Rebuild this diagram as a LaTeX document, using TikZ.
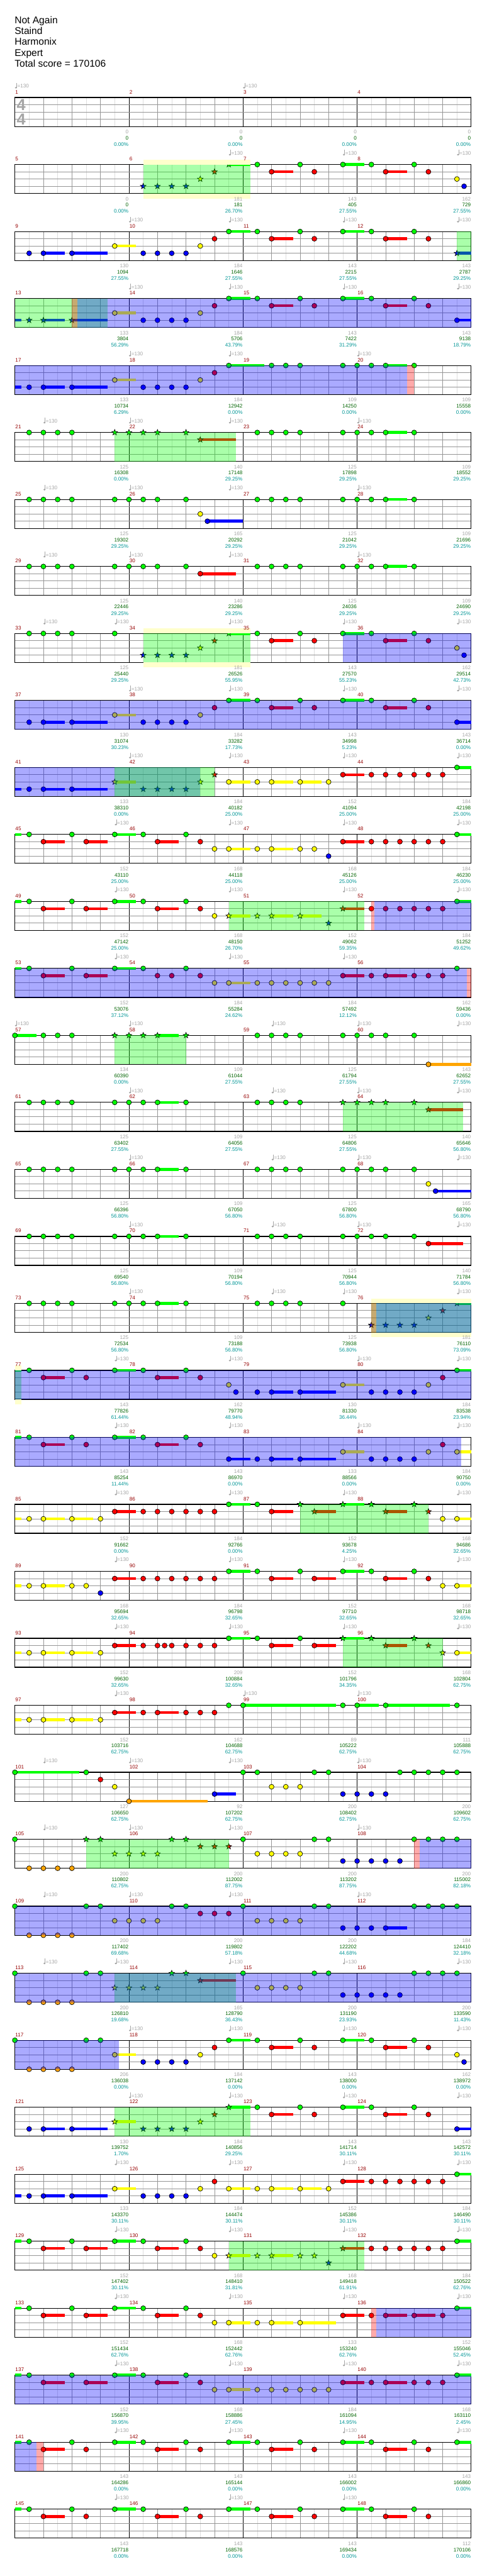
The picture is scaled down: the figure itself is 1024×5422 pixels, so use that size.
\documentclass[tikz,border=0pt]{standalone}
\usepackage{fontspec}
\setmainfont{Liberation Sans}
\usetikzlibrary{calc}

\definecolor{L0}{RGB}{0,255,0}
\definecolor{L1}{RGB}{255,0,0}
\definecolor{L2}{RGB}{255,255,0}
\definecolor{L3}{RGB}{0,0,255}
\definecolor{L4}{RGB}{255,165,0}
\definecolor{gridlt}{RGB}{222,222,222}
\definecolor{gridmd}{RGB}{150,150,150}
\definecolor{tgray}{RGB}{165,165,165}
\definecolor{mred}{RGB}{150,0,0}
\definecolor{sgreen}{RGB}{0,100,0}
\definecolor{pteal}{RGB}{0,150,150}
\definecolor{paleyel}{RGB}{255,255,204}

\newcommand{\lblfont}{\fontsize{5.4pt}{6pt}\selectfont}

\tikzset{
  eighth/.style={draw=gridlt,line width=0.5pt},
  beatln/.style={draw=gridmd,line width=0.5pt},
  barln/.style={draw=black,line width=0.5pt},
  laneln/.style={draw=gridmd,line width=0.6pt},
  frame/.style={draw=black,line width=0.8pt},
  gem/.style={draw=black,line width=0.45pt},
  ovl/.style={fill opacity=0.333},
  mnum/.style={font=\lblfont,text=mred,anchor=west,inner sep=0pt},
  tlab/.style={font=\lblfont,text=tgray,anchor=west,inner sep=0pt},
  lblg/.style={font=\lblfont,text=tgray,anchor=east,inner sep=0pt},
  lbls/.style={font=\lblfont,text=sgreen,anchor=east,inner sep=0pt},
  lblp/.style={font=\lblfont,text=pteal,anchor=east,inner sep=0pt},
  title/.style={font=\fontsize{10.3pt}{12pt}\selectfont,anchor=base west,inner sep=0pt},
  tsig/.style={font=\fontsize{16.8pt}{18pt}\selectfont\bfseries,text=tgray,inner sep=0pt}
}

% notes: lane (0=green ... 4=orange), position in eighths
\newcommand{\nt}[2]{\filldraw[gem,fill=L#1] (30*#2,15.25*#1) circle[radius=2.6pt];}
\newcommand{\hold}[3]{\fill[L#1] (30*#2,15.25*#1-3) rectangle (30*#3,15.25*#1+3);}
\newcommand{\nts}[3]{\hold{#1}{#2}{#3}\nt{#1}{#2}}
\newcommand{\sg}[2]{\filldraw[gem,fill=L#1,shift={(30*#2,15.25*#1)}]
  (90:3.1pt) -- (126:1.3pt) -- (162:3.1pt) -- (198:1.3pt) -- (234:3.1pt) -- (270:1.3pt)
  -- (306:3.1pt) -- (342:1.3pt) -- (18:3.1pt) -- (54:1.3pt) -- cycle;}
\newcommand{\sgs}[3]{\hold{#1}{#2}{#3}\sg{#1}{#2}}

% overlays
\newcommand{\glow}[2]{\fill[paleyel] (30*#1,-10.4) rectangle (30*#2,0);
  \fill[paleyel] (30*#1,61) rectangle (30*#2,71.4);}
\newcommand{\phrase}[2]{\fill[ovl,fill=green] (30*#1,0) rectangle (30*#2,61);}
\newcommand{\actv}[2]{\fill[ovl,fill=red] (30*#1,0) rectangle (30*#2,61);}
\newcommand{\odrive}[2]{\fill[ovl,fill=blue] (30*#1,0) rectangle (30*#2,61);}

\newcommand{\tmark}[2]{%
  \fill[tgray] (30*#1+2.3,-20.7) ellipse[x radius=1.2pt,y radius=0.9pt];
  \draw[tgray,line width=0.4pt] (30*#1+3.6,-21) -- (30*#1+3.6,-31);
  \node[tlab] (#2) at (30*#1+4.8,-24.3) {=130};}

% recurring figures
\newcommand{\riffA}{\nt{3}{1}\nts{3}{2}{3.5}\nts{3}{4}{6.5}\nts{2}{7}{8.5}\nt{3}{9}\nt{3}{10}\nt{3}{11}\nt{3}{12}\nt{2}{13}\nt{1}{14}}
\newcommand{\riffBt}{\nt{0}{17}\nts{1}{18}{19.5}\nt{0}{20}\nt{1}{21}\nts{0}{23}{24.5}\nt{0}{25}\nts{1}{26}{27.5}\nt{0}{28}\nt{1}{29}}
\newcommand{\riffB}{\nts{0}{15}{16.5}\riffBt}
\newcommand{\riffS}{\sg{3}{9}\sg{3}{10}\sg{3}{11}\sg{3}{12}\sg{2}{13}\sg{1}{14}\sgs{0}{15}{16.5}}
\newcommand{\riffC}{\nt{0}{1}\nt{0}{2}\nt{0}{3}\nt{0}{4}\nt{0}{7}\nt{0}{8}\nt{0}{9}\nt{0}{12}}
\newcommand{\riffD}{\nt{0}{17}\nt{0}{18}\nt{0}{19}\nt{0}{20}\nt{0}{23}\nt{0}{24}\nt{0}{25}}
\newcommand{\riffE}{\hold{0}{0}{0.46}\nt{0}{1}\nts{1}{2}{3.5}\nt{0}{4}\nts{1}{5}{6.5}\nts{0}{7}{8.5}\nt{0}{9}\nts{1}{10}{11.5}\nt{0}{12}\nt{1}{13}\nt{2}{14}}
\newcommand{\riffG}{\hold{0}{0}{0.46}\nt{0}{1}\nts{1}{2}{3.5}\nt{0}{4}\nt{1}{5}\nts{0}{7}{8.5}\nt{0}{9}\nts{1}{10}{11.5}\nt{0}{12}\nt{1}{13}}
\newcommand{\riffY}{\nts{2}{15}{16.5}\nt{2}{17}\nts{2}{18}{19.5}\nts{2}{20}{21.5}\nt{2}{22}}
\newcommand{\riffR}{\nts{1}{23}{24.5}\nt{1}{25}\nt{1}{26}\nt{1}{27}\nt{1}{28}\nt{1}{29}\nt{1}{30}}
\newcommand{\riffH}{\nt{0}{0}\nt{4}{1}\nt{4}{2}\nt{4}{3}\nt{4}{4}\nt{0}{5}\nt{0}{6}}
\newcommand{\riffI}{\nt{0}{16}\nt{2}{17}\nt{2}{18}\nt{2}{19}\nt{2}{20}\nt{0}{21}\nt{0}{22}\nt{3}{23}\nt{3}{24}\nt{3}{25}}
\newcommand{\riffK}{\hold{2}{0}{0.46}\nt{2}{1}\nts{2}{2}{3.5}}

% one line of four measures: row, tempo marks, notes, overlays, scores
\newcommand{\staffrow}[5]{%
\begin{scope}[shift={(31.3,{205.3+141*(#1-1)})}]
  \foreach \k in {1,3,...,31} \draw[eighth] (30*\k,0) -- (30*\k,61);
  \foreach \k in {2,4,6,10,12,14,18,20,22,26,28,30} \draw[beatln] (30*\k,0) -- (30*\k,61);
  \foreach \k in {8,16,24} \draw[barln] (30*\k,0) -- (30*\k,61);
  \foreach \l in {1,2,3} \draw[laneln] (0,15.25*\l) -- (960,15.25*\l);
  \draw[frame] (0,0) rectangle (960,61);
  #3
  #4
  \foreach \k in {0,...,3} {
    \pgfmathtruncatemacro{\mm}{4*(#1-1)+\k+1}
    \node[mnum] (m\mm) at (240*\k+0.7,-11.6) {\mm};
  }
  \foreach \tp [count=\k] in {#2} {\tmark{\tp}{t#1-\k}}
  \foreach \va/\vb/\vc [count=\k] in {#5} {
    \pgfmathtruncatemacro{\mm}{4*(#1-1)+\k}
    \node[lblg] (g\mm) at (240*\k-0.6,72.4) {\va};
    \node[lbls] (s\mm) at (240*\k-0.6,85.3) {\vb};
    \node[lblp] (p\mm) at (240*\k-0.6,98.6) {\vc};
  }
\end{scope}}

\begin{document}
\begin{tikzpicture}[x=0.5pt,y=-0.5pt]
\useasboundingbox (0,0) rectangle (1024,5422);
\fill[white] (0,0) rectangle (1024,5422);

\node[title] (song) at (30.5,49) {Not Again};
\node[title] (band) at (30.5,72) {Staind};
\node[title] (chart) at (30.5,95) {Harmonix};
\node[title] (diff) at (30.5,118) {Expert};
\node[title] (total) at (30.5,141) {Total score = 170106};

\staffrow{1}{0,16}{}{}{0/0/0.00\%,0/0/0.00\%,0/0/0.00\%,0/0/0.00\%}
\node[tsig] (tsa) at (44.5,220.5) {4};
\node[tsig] (tsb) at (44.5,251) {4};

\staffrow{2}{15,23,31}
 {\riffS\riffBt\nt{2}{31}\nt{3}{31.5}}
 {\glow{9}{16.5}\phrase{9}{16.5}}
 {0/0/0.00\%,181/181/26.70\%,143/405/27.55\%,162/729/27.55\%}
\staffrow{3}{8,15,23,31}
 {\riffA\riffB\sgs{3}{31}{32}}
 {\phrase{31}{32}}
 {130/1094/27.55\%,184/1646/27.55\%,143/2215/27.55\%,143/2787/29.25\%}
\staffrow{4}{8,15,23,31}
 {\hold{3}{0}{0.46}\sg{3}{1}\sgs{3}{2}{3.5}\sgs{3}{4}{6.5}\nts{2}{7}{8.5}\nt{3}{9}\nt{3}{10}\nt{3}{11}\nt{3}{12}\nt{2}{13}\nt{1}{14}\riffB\nts{3}{31}{32}}
 {\phrase{0}{6.5}\actv{4}{4.4}\odrive{4.4}{32}}
 {133/3804/56.29\%,184/5706/43.79\%,143/7422/31.29\%,143/9138/18.79\%}
\staffrow{5}{8,15,24}
 {\hold{3}{0}{0.46}\riffA\nts{0}{15}{17.5}\nt{0}{18}\nt{0}{19}\nt{0}{20}\nt{0}{23}\nt{0}{24}\nt{0}{25}\nts{0}{26}{27.5}\nt{0}{28}}
 {\odrive{0}{27.5}\actv{27.5}{28}}
 {133/10734/6.29\%,184/12942/0.00\%,109/14250/0.00\%,109/15558/0.00\%}
\staffrow{6}{2,8,15,24}
 {\nt{0}{1}\nt{0}{2}\nt{0}{3}\nt{0}{4}\sg{0}{7}\sg{0}{8}\sg{0}{9}\sg{0}{10}\sg{0}{12}\sgs{1}{13}{15.5}\riffD\nts{0}{26}{27.5}\nt{0}{28}}
 {\phrase{7}{15.5}}
 {125/16308/0.00\%,140/17148/29.25\%,125/17898/29.25\%,109/18552/29.25\%}
\staffrow{7}{2,8,15,24}
 {\riffC\nt{0}{10}\nt{2}{13}\nts{3}{13.5}{16}\riffD\nts{0}{26}{27.5}\nt{0}{28}}
 {}
 {125/19302/29.25\%,165/20292/29.25\%,125/21042/29.25\%,109/21696/29.25\%}
\staffrow{8}{2,8,15,24}
 {\riffC\nt{0}{10}\nts{1}{13}{15.5}\riffD\nts{0}{26}{27.5}\nt{0}{28}}
 {}
 {125/22446/29.25\%,140/23286/29.25\%,125/24036/29.25\%,109/24690/29.25\%}
\staffrow{9}{2,7,15,23,31}
 {\nt{0}{1}\nt{0}{2}\nt{0}{3}\nt{0}{4}\nt{0}{7}\riffS\riffBt\nt{2}{31}\nt{3}{31.5}}
 {\glow{9}{16.5}\phrase{9}{16.5}\odrive{23}{32}}
 {125/25440/29.25\%,181/26526/55.95\%,143/27570/55.23\%,162/29514/42.73\%}
\staffrow{10}{8,15,23,31}
 {\riffA\riffB\nts{3}{31}{32}}
 {\odrive{0}{32}}
 {130/31074/30.23\%,184/33282/17.73\%,143/34998/5.23\%,143/36714/0.00\%}
\staffrow{11}{8,15,23,31}
 {\hold{3}{0}{0.46}\nt{3}{1}\nts{3}{2}{3.5}\nts{3}{4}{6.5}\sgs{2}{7}{8.5}\sg{3}{9}\sg{3}{10}\sg{3}{11}\sg{3}{12}\sg{2}{13}\sg{1}{14}\riffY\riffR\nts{0}{31}{32}}
 {\odrive{0}{13}\phrase{7}{14}}
 {133/38310/0.00\%,184/40182/25.00\%,152/41094/25.00\%,184/42198/25.00\%}
\staffrow{12}{7,15,23,31}
 {\riffE\nts{2}{15}{16.5}\nt{2}{17}\nts{2}{18}{19.5}\nt{2}{20}\nt{2}{21}\nt{3}{22}\riffR\nts{0}{31}{32}}
 {}
 {152/43110/25.00\%,168/44118/25.00\%,168/45126/25.00\%,184/46230/25.00\%}
\staffrow{13}{7,15,23,31}
 {\riffE\sgs{2}{15}{16.5}\sg{2}{17}\sgs{2}{18}{19.5}\sgs{2}{20}{21.5}\sg{3}{22}\sgs{1}{23}{24.5}\nt{1}{25}\nt{1}{26}\nt{1}{27}\nt{1}{28}\nt{1}{29}\nt{1}{30}\nts{0}{31}{32}}
 {\phrase{15}{24.5}\actv{25}{25.2}\odrive{25.2}{32}}
 {152/47142/25.00\%,168/48150/26.70\%,152/49062/59.35\%,184/51252/49.62\%}
\staffrow{14}{7,15,23}
 {\hold{0}{0}{0.46}\nt{0}{1}\nts{1}{2}{3.5}\nt{0}{4}\nts{1}{5}{6.5}\nts{0}{7}{8.5}\nt{0}{9}\nt{1}{10}\nt{1}{11}\nt{0}{12}\nt{1}{13}\nt{2}{14}\nts{2}{15}{16.5}\nt{2}{17}\nt{2}{18}\nt{2}{19}\nt{2}{20}\nt{2}{21}\nt{2}{22}\nts{1}{23}{24.5}\nt{1}{25}\nts{1}{26}{27.5}\nt{1}{28}\nt{1}{29}\nt{1}{30}\nt{0}{31}}
 {\odrive{0}{31.7}\actv{31.7}{32}}
 {152/53076/37.12\%,184/55284/24.62\%,184/57492/12.12\%,162/59436/0.00\%}
\staffrow{15}{0,8,18,24,31}
 {\nts{0}{0}{1.5}\nt{0}{2}\nt{0}{3}\nt{0}{4}\sg{0}{7}\sg{0}{8}\sg{0}{9}\sgs{0}{10}{11.5}\sg{0}{12}\riffD\nt{0}{26}\nt{0}{28}\nts{4}{29}{32}}
 {\phrase{7}{12}}
 {134/60390/0.00\%,109/61044/27.55\%,125/61794/27.55\%,143/62652/27.55\%}
\staffrow{16}{8,18,24,31}
 {\riffC\nts{0}{10}{11.5}\nt{0}{17}\nt{0}{18}\nt{0}{19}\nt{0}{20}\sg{0}{23}\sg{0}{24}\sg{0}{25}\sg{0}{26}\sg{0}{28}\sgs{1}{29}{31.45}}
 {\phrase{23}{31.45}}
 {125/63402/27.55\%,109/64056/27.55\%,125/64806/27.55\%,140/65646/56.80\%}
\staffrow{17}{8,18,24,31}
 {\riffC\nts{0}{10}{11.5}\riffD\nt{0}{26}\nt{0}{28}\nt{2}{29}\nts{3}{29.5}{32}}
 {}
 {125/66396/56.80\%,109/67050/56.80\%,125/67800/56.80\%,165/68790/56.80\%}
\staffrow{18}{8,18,24,31}
 {\riffC\nts{0}{10}{11.5}\riffD\nt{0}{26}\nt{0}{28}\nts{1}{29}{31.45}}
 {}
 {125/69540/56.80\%,109/70194/56.80\%,125/70944/56.80\%,140/71784/56.80\%}
\staffrow{19}{8,18,23,31}
 {\riffC\nts{0}{10}{11.5}\nt{0}{17}\nt{0}{18}\nt{0}{19}\nt{0}{20}\nt{0}{23}\sg{3}{25}\sg{3}{26}\sg{3}{27}\sg{3}{28}\sg{2}{29}\sg{1}{30}\sgs{0}{31}{32}}
 {\glow{25}{32}\phrase{25}{32}\actv{25}{25.35}\odrive{25.35}{32}}
 {125/72534/56.80\%,109/73188/56.80\%,125/73938/56.80\%,181/76110/73.09\%}
\staffrow{20}{7,15,24,31}
 {\riffG\nt{2}{15}\nt{3}{15.5}\nt{3}{17}\nts{3}{18}{19.5}\nts{3}{20}{22.5}\nts{2}{23}{24.5}\nt{3}{25}\nt{3}{26}\nt{3}{27}\nt{3}{28}\nt{2}{29}\nt{1}{30}\nts{0}{31}{32}}
 {\glow{0}{0.46}\phrase{0}{0.46}\odrive{0}{32}}
 {143/77826/61.44\%,162/79770/48.94\%,130/81330/36.44\%,184/83538/23.94\%}
\staffrow{21}{7,15,24,31}
 {\riffG\nts{3}{15}{16.5}\nt{3}{17}\nts{3}{18}{19.5}\nts{3}{20}{22.5}\nts{2}{23}{24.5}\nt{3}{25}\nt{3}{26}\nt{3}{27}\nt{3}{28}\nt{2}{29}\nt{1}{30}\nts{2}{31}{32}}
 {\odrive{0}{31.28}}
 {143/85254/11.44\%,143/86970/0.00\%,133/88566/0.00\%,184/90750/0.00\%}
\staffrow{22}{7,15,23,31}
 {\riffK\nts{2}{4}{5.5}\nt{2}{6}\nts{1}{7}{8.5}\nt{1}{9}\nt{1}{10}\nt{1}{11}\nt{1}{12}\nt{1}{13}\nt{1}{14}\nts{0}{15}{16.5}\nt{0}{17}\nts{1}{18}{19.5}\sg{0}{20}\sgs{1}{21}{22.5}\sgs{0}{23}{24.5}\sg{0}{25}\sgs{1}{26}{27.5}\sg{0}{28}\sg{1}{29}\nt{2}{30}\nts{2}{31}{32}}
 {\phrase{20}{29}}
 {152/91662/0.00\%,184/92766/0.00\%,152/93678/4.25\%,168/94686/32.65\%}
\staffrow{23}{7,15,23,31}
 {\riffK\nt{2}{4}\nt{2}{5}\nt{3}{6}\nts{1}{7}{8.5}\nt{1}{9}\nt{1}{10}\nt{1}{11}\nt{1}{12}\nt{1}{13}\nt{1}{14}\nts{0}{15}{16.5}\nt{0}{17}\nts{1}{18}{19.5}\nt{0}{20}\nts{1}{21}{22.5}\nts{0}{23}{24.5}\nt{0}{25}\nts{1}{26}{27.5}\nt{0}{28}\nt{1}{29}\nt{2}{30}\nts{2}{31}{32}}
 {}
 {168/95694/32.65\%,184/96798/32.65\%,152/97710/32.65\%,168/98718/32.65\%}
\staffrow{24}{7,15,23,31}
 {\riffK\nts{2}{4}{5.5}\nt{2}{6}\nts{1}{7}{8.5}\nt{1}{9}\nt{1}{10}\nt{1}{10.5}\nt{1}{11}\nt{1}{12}\nt{1}{13}\nt{1}{14}\nts{0}{15}{16.5}\nt{0}{17}\nts{1}{18}{19.5}\nt{0}{20}\nts{1}{21}{22.5}\sgs{0}{23}{24.5}\sg{0}{25}\sgs{1}{26}{27.5}\sg{0}{28}\sg{1}{29}\sg{2}{30}\nts{2}{31}{32}}
 {\phrase{23}{30}}
 {152/99630/32.65\%,209/100884/32.65\%,152/101796/34.35\%,168/102804/62.75\%}
\staffrow{25}{7,16,24}
 {\riffK\nts{2}{4}{5.5}\nt{2}{6}\nts{1}{7}{8.5}\nt{1}{9}\nts{1}{10}{11.5}\nt{1}{12}\nt{1}{13}\nt{1}{14}\nt{0}{15}\nts{0}{16}{22.5}\nt{0}{23}\nts{0}{24}{25.5}\nts{0}{26}{30.5}\nt{0}{31}}
 {}
 {152/103716/62.75\%,162/104688/62.75\%,89/105222/62.75\%,111/105888/62.75\%}
\staffrow{26}{2,8,15,24}
 {\nts{0}{0}{4.5}\nt{0}{5}\nt{1}{6}\nt{2}{7}\nts{4}{8}{13.5}\nts{3}{14}{15.5}\nt{0}{16}\nt{0}{17}\nt{2}{18}\nt{2}{19}\nt{2}{20}\nt{0}{21}\nt{0}{22}\nt{3}{23}\nt{3}{24}\nt{3}{25}\nt{3}{26}\nt{0}{27}\nt{0}{28}\nt{0}{29}\nt{0}{30}\nt{0}{31}}
 {}
 {127/106650/62.75\%,92/107202/62.75\%,200/108402/62.75\%,200/109602/62.75\%}
\staffrow{27}{2,8,15,24}
 {\nt{0}{0}\nt{4}{1}\nt{4}{2}\nt{4}{3}\nt{4}{4}\sg{0}{5}\sg{0}{6}\sg{2}{7}\sg{2}{8}\sg{2}{9}\sg{2}{10}\sg{0}{11}\sg{0}{12}\sg{1}{13}\sg{1}{14}\sg{1}{15}\riffI\nt{3}{26}\nt{3}{27}\nt{0}{28}\nt{0}{29}\nt{0}{30}\nt{0}{31}}
 {\phrase{5}{15}\actv{28}{28.4}\odrive{28.4}{32}}
 {200/110802/62.75\%,200/112002/87.75\%,200/113202/87.75\%,200/115002/82.18\%}
\staffrow{28}{2,8,15,24}
 {\riffH\nt{2}{7}\nt{2}{8}\nt{2}{9}\nt{2}{10}\nt{0}{11}\nt{0}{12}\nt{1}{13}\nt{1}{14}\nt{1}{15}\riffI\nts{3}{26}{27.5}\nt{0}{28}\nt{0}{29}\nt{0}{30}\nt{0}{31}}
 {\odrive{0}{32}}
 {200/117402/69.68\%,200/119802/57.18\%,200/122202/44.68\%,184/124410/32.18\%}
\staffrow{29}{2,7,15,23,31}
 {\riffH\sg{2}{7}\sg{2}{8}\sg{2}{9}\sg{2}{10}\sg{0}{11}\sg{0}{12}\sgs{1}{13}{15.5}\riffI\nt{3}{26}\nt{3}{27}\nt{0}{28}\nt{0}{29}\nt{0}{30}\nt{0}{31}}
 {\phrase{7}{15.5}\odrive{0}{32}}
 {200/126810/19.68\%,165/128790/36.43\%,200/131190/23.93\%,200/133590/11.43\%}
\staffrow{30}{8,15,23,31}
 {\riffH\nts{2}{7}{8.5}\nt{3}{9}\nt{3}{10}\nt{3}{11}\nt{3}{12}\nt{2}{13}\nt{1}{14}\riffB\nt{2}{31}\nt{3}{31.5}}
 {\odrive{0}{7.3}}
 {206/136038/0.00\%,184/137142/0.00\%,143/138000/0.00\%,162/138972/0.00\%}
\staffrow{31}{8,15,23,31}
 {\nt{3}{1}\nts{3}{2}{3.5}\nts{3}{4}{6.5}\sgs{2}{7}{8.5}\riffS\riffBt\nts{3}{31}{32}}
 {\phrase{7}{16.5}}
 {130/139752/1.70\%,184/140856/29.25\%,143/141714/30.11\%,143/142572/30.11\%}
\staffrow{32}{7,15,23,31}
 {\hold{3}{0}{0.46}\riffA\riffY\riffR\nts{0}{31}{32}}
 {}
 {133/143370/30.11\%,184/144474/30.11\%,152/145386/30.11\%,184/146490/30.11\%}
\staffrow{33}{7,15,23,31}
 {\riffE\sgs{2}{15}{16.5}\sg{2}{17}\sgs{2}{18}{19.5}\sg{2}{20}\sg{2}{21}\sg{3}{22}\sgs{1}{23}{24.5}\nt{1}{25}\nt{1}{26}\nt{1}{27}\nt{1}{28}\nt{1}{29}\nt{1}{30}\nts{0}{31}{32}}
 {\phrase{15}{24.5}}
 {152/147402/30.11\%,168/148410/31.81\%,168/149418/61.91\%,184/150522/62.76\%}
\staffrow{34}{7,15,23,31}
 {\riffE\nts{2}{15}{16.5}\nt{2}{17}\nts{2}{18}{19.5}\nts{2}{20}{22.5}\nts{1}{23}{24.5}\nt{1}{25}\nts{1}{26}{27.5}\nts{1}{28}{29.5}\nt{1}{30}\nts{0}{31}{32}}
 {\actv{25}{25.35}\odrive{25.35}{32}}
 {152/151434/62.76\%,168/152442/62.76\%,133/153240/62.76\%,152/155046/52.45\%}
\staffrow{35}{7,15,23,31}
 {\riffE\nts{2}{15}{16.5}\nt{2}{17}\nt{2}{18}\nt{2}{19}\nt{2}{20}\nt{2}{21}\nt{2}{22}\nts{1}{23}{24.5}\nt{1}{25}\nts{1}{26}{27.5}\nt{1}{28}\nt{1}{29}\nt{1}{30}\nts{0}{31}{32}}
 {\odrive{0}{32}}
 {152/156870/39.95\%,168/158886/27.45\%,184/161094/14.95\%,168/163110/2.45\%}
\staffrow{36}{7,15,23,31}
 {\riffG\riffB\nts{0}{31}{32}}
 {\odrive{0}{1.52}\actv{1.52}{2}}
 {143/164286/0.00\%,143/165144/0.00\%,143/166002/0.00\%,143/166860/0.00\%}
\staffrow{37}{7,15,23}
 {\riffG\riffB}
 {}
 {143/167718/0.00\%,143/168576/0.00\%,143/169434/0.00\%,112/170106/0.00\%}
\end{tikzpicture}
\end{document}
